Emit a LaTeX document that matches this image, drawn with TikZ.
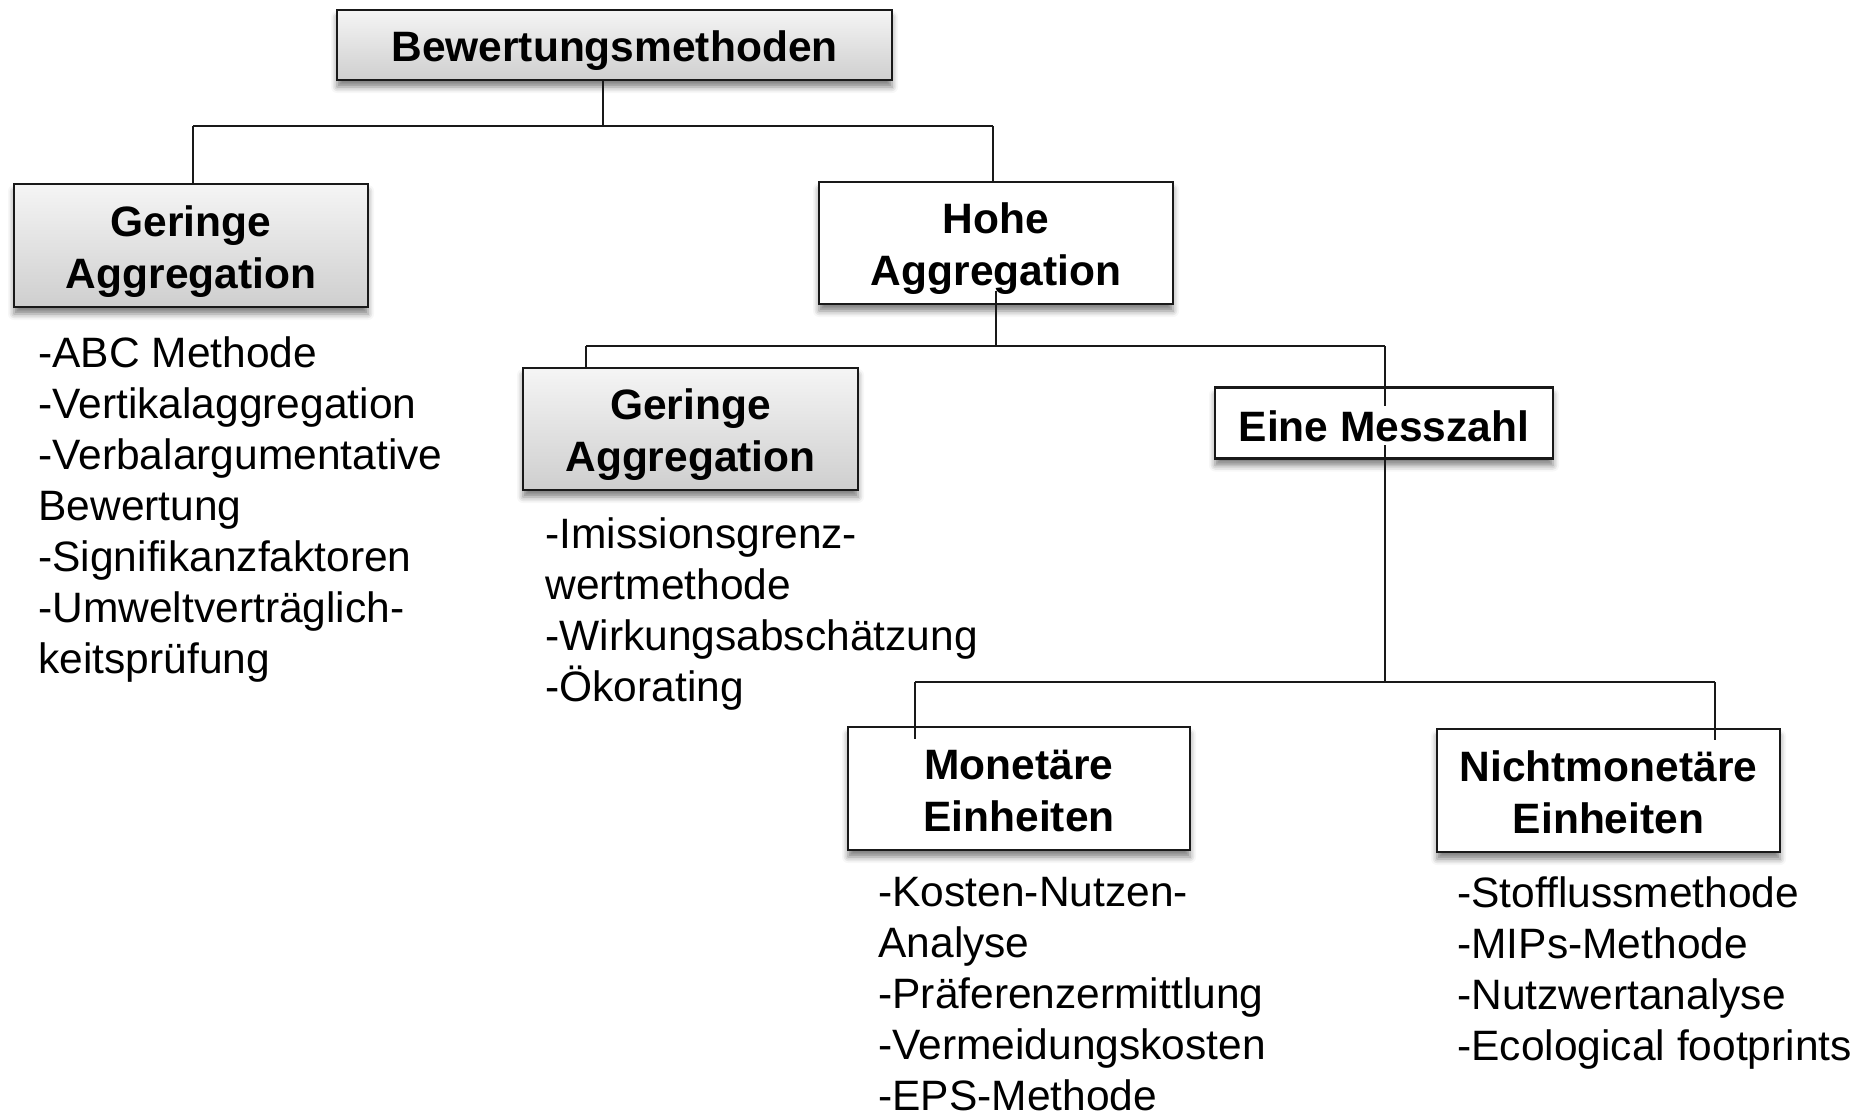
\documentclass[tikz,border=0pt]{standalone}
\usepackage{fontspec}
\setmainfont[Ligatures={TeX,NoCommon}]{Liberation Sans}
\usetikzlibrary{shadows.blur}

% invisible strut giving every box line the same height and depth
\newcommand{\boxstrut}{\rule[-4.5pt]{0pt}{25.8pt}}

\begin{document}
\begin{tikzpicture}[x=0.5pt,y=-0.5pt,
  box/.style={draw=black!90, line width=1.2pt, rectangle, inner sep=0pt, align=center,
    font=\fontsize{21.25}{26}\selectfont\bfseries,
    blur shadow={shadow xshift=0pt, shadow yshift=-3.5pt, shadow blur radius=3pt, shadow opacity=50}},
  graybox/.style={box, top color=gray!8, bottom color=gray!38},
  whitebox/.style={box, fill=white},
  conn/.style={line width=1pt, draw=black!90},
  itemlist/.style={anchor=base west, align=left, inner sep=0pt,
    font=\fontsize{21.25}{25.5}\selectfont}]

\useasboundingbox (0,0) rectangle (1869,1113);

% boxes
\node[graybox, minimum width=277.5pt, minimum height=35pt] (top) at (614.5,45) {\boxstrut Bewertungsmethoden};
\node[graybox, minimum width=177pt, minimum height=61.5pt] (ger1) at (191,245.5) {\boxstrut Geringe\\\boxstrut Aggregation};
\node[whitebox, minimum width=177pt, minimum height=61pt] (hohe) at (996,243) {\boxstrut Hohe\\\boxstrut Aggregation};
\node[graybox, minimum width=167.5pt, minimum height=61pt] (ger2) at (690.5,429) {\boxstrut Geringe\\\boxstrut Aggregation};
\node[whitebox, minimum width=169pt, minimum height=35.5pt] (mz) at (1384,423) {};
\node[whitebox, minimum width=171pt, minimum height=61.5pt] (mon) at (1019,788.5) {\boxstrut Monetäre\\\boxstrut Einheiten};
\node[whitebox, minimum width=171.5pt, minimum height=61.5pt] (nicht) at (1608.5,790.5) {\boxstrut Nichtmonetäre\\\boxstrut Einheiten};

% junction points of the tree
\coordinate (b1)  at (603,126);
\coordinate (b1l) at (193,126);
\coordinate (b1r) at (993,126);
\coordinate (b2)  at (996,346);
\coordinate (b2l) at (586,346);
\coordinate (b2r) at (1385,346);
\coordinate (b3)  at (1385,682);
\coordinate (b3l) at (915,682);
\coordinate (b3r) at (1715,682);
\coordinate (h0)  at (b2 |- hohe.south);
\coordinate (m0)  at (b3l |- mon.north);
\coordinate (n0)  at (b3r |- nicht.north);

% connectors
\draw[conn] (b1 |- top.south) -- (b1);
\draw[conn] (b1l) -- (b1r);
\draw[conn] (b1l) -- (b1l |- ger1.north);
\draw[conn] (b1r) -- (b1r |- hohe.north);

\draw[conn] ([yshift=7pt]h0) -- (b2);
\draw[conn] (b2l) -- (b2r);
\draw[conn] (b2l) -- (b2l |- ger2.north);
\draw[conn] (b2r) -- (b3);

\draw[conn] (b3l) -- (b3r);
\draw[conn] (b3l) -- ([yshift=-6.5pt]m0);
\draw[conn] (b3r) -- ([yshift=-6pt]n0);

% label of the single-figure box, set over the connector
\node[fill=white, inner sep=2pt, anchor=base, font=\fontsize{21.25}{26}\selectfont\bfseries]
  (mzlabel) at (1384,441) {Eine Messzahl};

% method lists (anchored at the baseline of their last line)
\node[itemlist] (l1) at (38,673) {-ABC Methode\\-Vertikalaggregation\\-Verbalargumentative\\Bewertung\\-Signifikanzfaktoren\\-Umweltverträglich-\\keitsprüfung};
\node[itemlist] (l2) at (545,701) {-Imissionsgrenz-\\wertmethode\\-Wirkungsabschätzung\\-Ökorating};
\node[itemlist] (l3) at (878,1110) {-Kosten-Nutzen-\\Analyse\\-Präferenzermittlung\\-Vermeidungskosten\\-EPS-Methode};
\node[itemlist] (l4) at (1457,1060) {-Stofflussmethode\\-MIPs-Methode\\-Nutzwertanalyse\\-Ecological footprints};

\end{tikzpicture}
\end{document}
